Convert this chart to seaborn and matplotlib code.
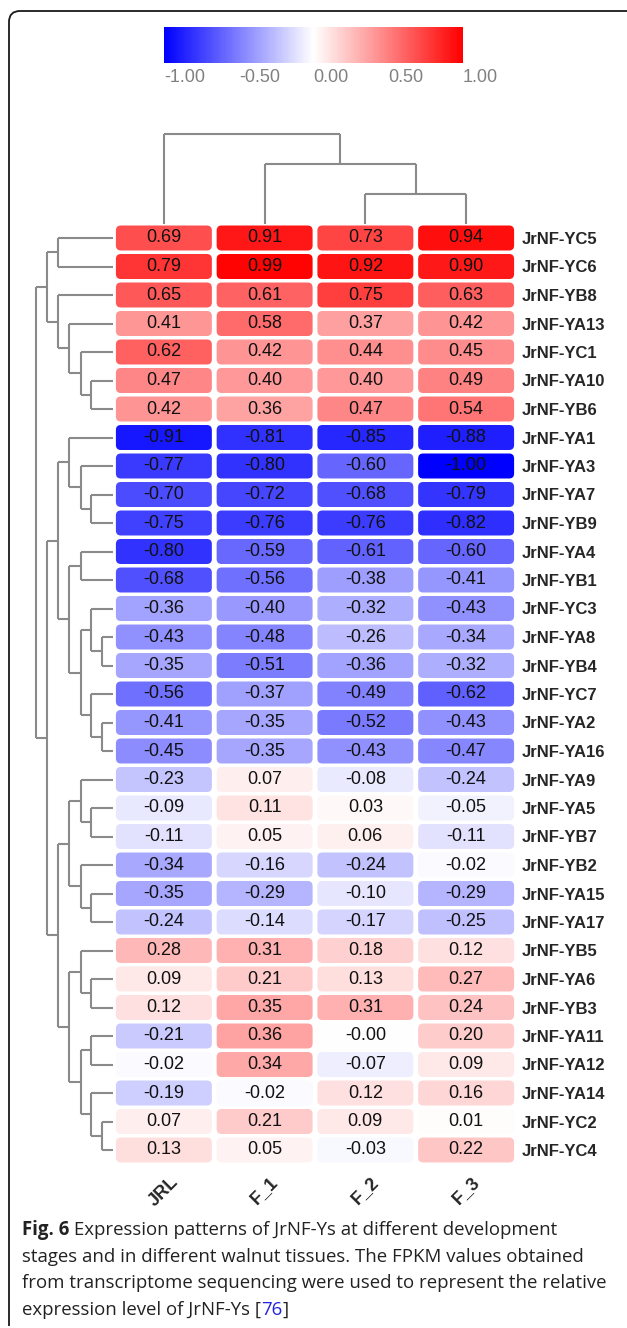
import numpy as np
import pandas as pd
import matplotlib
matplotlib.use("Agg")
import matplotlib.pyplot as plt
import seaborn as sns
from matplotlib.colors import LinearSegmentedColormap
from matplotlib.patches import FancyBboxPatch, PathPatch
from matplotlib.path import Path
from matplotlib.transforms import IdentityTransform

# ---------------- data ----------------
genes = ["JrNF-YC5", "JrNF-YC6", "JrNF-YB8", "JrNF-YA13", "JrNF-YC1", "JrNF-YA10",
         "JrNF-YB6", "JrNF-YA1", "JrNF-YA3", "JrNF-YA7", "JrNF-YB9", "JrNF-YA4",
         "JrNF-YB1", "JrNF-YC3", "JrNF-YA8", "JrNF-YB4", "JrNF-YC7", "JrNF-YA2",
         "JrNF-YA16", "JrNF-YA9", "JrNF-YA5", "JrNF-YB7", "JrNF-YB2", "JrNF-YA15",
         "JrNF-YA17", "JrNF-YB5", "JrNF-YA6", "JrNF-YB3", "JrNF-YA11", "JrNF-YA12",
         "JrNF-YA14", "JrNF-YC2", "JrNF-YC4"]
samples = ["JRL", "F_1", "F_2", "F_3"]

jrl = [0.69, 0.79, 0.65, 0.41, 0.62, 0.47, 0.42, -0.91, -0.77, -0.70, -0.75, -0.80,
       -0.68, -0.36, -0.43, -0.35, -0.56, -0.41, -0.45, -0.23, -0.09, -0.11, -0.34,
       -0.35, -0.24, 0.28, 0.09, 0.12, -0.21, -0.02, -0.19, 0.07, 0.13]
f_1 = [0.91, 0.99, 0.61, 0.58, 0.42, 0.40, 0.36, -0.81, -0.80, -0.72, -0.76, -0.59,
       -0.56, -0.40, -0.48, -0.51, -0.37, -0.35, -0.35, 0.07, 0.11, 0.05, -0.16,
       -0.29, -0.14, 0.31, 0.21, 0.35, 0.36, 0.34, -0.02, 0.21, 0.05]
f_2 = [0.73, 0.92, 0.75, 0.37, 0.44, 0.40, 0.47, -0.85, -0.60, -0.68, -0.76, -0.61,
       -0.38, -0.32, -0.26, -0.36, -0.49, -0.52, -0.43, -0.08, 0.03, 0.06, -0.24,
       -0.10, -0.17, 0.18, 0.13, 0.31, -0.001, -0.07, 0.12, 0.09, -0.03]
f_3 = [0.94, 0.90, 0.63, 0.42, 0.45, 0.49, 0.54, -0.88, -1.00, -0.79, -0.82, -0.60,
       -0.41, -0.43, -0.34, -0.32, -0.62, -0.43, -0.47, -0.24, -0.05, -0.11, -0.02,
       -0.29, -0.25, 0.12, 0.27, 0.24, 0.20, 0.09, 0.16, 0.01, 0.22]

# dendrogram topologies: (merge height, left, right); leaves are row / column indices
L1, L2, L3, L4, L5, L6, L7 = 11.3, 22.3, 33.0, 44.7, 55.7, 67.0, 78.0
row_tree = (L7,
            (L6, (L5, 0, 1), (L5, 2, (L4, 3, (L3, 4, (L2, 5, 6))))),
            (L6,
             (L5,
              (L4, 7, (L3, 8, (L2, 9, 10))),
              (L4, (L3, 11, 12),
                   (L3, (L2, 13, (L1, 14, 15)), (L2, 16, (L1, 17, 18))))),
             (L5,
              (L4, (L3, 19, (L2, 20, 21)), (L3, 22, (L2, 23, 24))),
              (L4, (L3, 25, (L2, 26, 27)),
                   (L3, (L2, 28, 29), (L2, 30, (L1, 31, 32)))))))
col_tree = (89.3, 0, (60.0, 1, (30.0, 2, 3)))

caption_bold = "Fig. 6"
caption_lines = [" Expression patterns of JrNF-Ys at different development",
                 "stages and in different walnut tissues. The FPKM values obtained",
                 "from transcriptome sequencing were used to represent the relative",
                 "expression level of JrNF-Ys ["]
caption_ref = "76"

# ---------------- figure ----------------
W, H = 627, 1328
fig = plt.figure(figsize=(W / 100, H / 100), dpi=100)
sns.set_style("white")
plt.rcParams["font.family"] = ["Liberation Sans", "DejaVu Sans"]

def fx(px):
    return px / W

def fy(py):
    return 1 - py / H

df = pd.DataFrame({"JRL": jrl, "F_1": f_1, "F_2": f_2, "F_3": f_3}, index=genes)[samples]
cmap = LinearSegmentedColormap.from_list("bwr_pure", ["#0000FF", "#FFFFFF", "#FF0000"])

heat_left, heat_right = 113.5, 516.5
heat_top, row_h = 223.75, 28.5
n_rows, n_cols = len(genes), len(samples)
heat_bottom = heat_top + n_rows * row_h

ax = fig.add_axes([fx(heat_left), fy(heat_bottom), fx(heat_right - heat_left),
                   (heat_bottom - heat_top) / H])
cax = fig.add_axes([fx(164), fy(63), fx(463 - 164), 36 / H])

sns.heatmap(df, ax=ax, cmap=cmap, vmin=-1, vmax=1, annot=True, fmt=".2f",
            annot_kws={"color": "#111111", "fontsize": 13, "family": "Liberation Sans"},
            cbar=True, cbar_ax=cax, cbar_kws={"orientation": "horizontal"},
            xticklabels=True, yticklabels=True)

mesh = ax.collections[0]
mesh.set_visible(False)

# rounded cells
ux = (heat_right - heat_left) / n_cols
uy = row_h
gx, gy, r_px = 2.4, 1.75, 5.0
for i in range(n_rows):
    for j in range(n_cols):
        v = df.iat[i, j]
        p = FancyBboxPatch((j + gx / ux, i + gy / uy), 1 - 2 * gx / ux, 1 - 2 * gy / uy,
                           boxstyle=f"round,pad=0,rounding_size={r_px / ux}",
                           mutation_aspect=ux / uy,
                           fc=mesh.cmap(mesh.norm(v)), ec="none", zorder=1)
        ax.add_patch(p)

ax.set_xlabel("")
ax.set_ylabel("")
ax.yaxis.tick_right()
ax.tick_params(axis="y", length=0, pad=4, labelsize=12, rotation=0)
for t in ax.get_yticklabels():
    t.set_fontweight("bold")
    t.set_ha("left")
ax.tick_params(axis="x", length=0, pad=7)
ax.set_xticklabels(samples, rotation=45, ha="center", va="top",
                   fontweight="bold", fontsize=13)
for s in ax.spines.values():
    s.set_visible(False)

# colorbar styling
cbar = mesh.colorbar
cbar.outline.set_visible(False)
cbar.set_ticks([-1.0, -0.5, 0.0, 0.5, 1.0])
cbar.set_ticklabels(["-1.00", "-0.50", "0.00", "0.50", "1.00"])
cax.tick_params(length=0, labelsize=13, labelcolor="#808080", pad=4)
for t in cax.get_xticklabels():
    t.set_ha("left")

# ---------------- dendrograms ----------------
line_kw = dict(color="#8a8a8a", lw=1.5, solid_capstyle="butt")

def draw_tree(node, axd, orient):
    if isinstance(node, int):
        return node + 0.5, 0.0
    h, a, b = node
    pa, ha = draw_tree(a, axd, orient)
    pb, hb = draw_tree(b, axd, orient)
    if orient == "row":
        axd.plot([ha, h], [pa, pa], **line_kw)
        axd.plot([hb, h], [pb, pb], **line_kw)
        axd.plot([h, h], [pa, pb], **line_kw)
    else:
        axd.plot([pa, pa], [ha, h], **line_kw)
        axd.plot([pb, pb], [hb, h], **line_kw)
        axd.plot([pa, pb], [h, h], **line_kw)
    return (pa + pb) / 2, h

rd_w = 85
axr = fig.add_axes([fx(heat_left - rd_w), fy(heat_bottom), fx(rd_w),
                    (heat_bottom - heat_top) / H])
axr.set_xlim(rd_w, 0)
axr.set_ylim(n_rows, 0)
draw_tree(row_tree, axr, "row")
axr.axis("off")

cd_h = 95
axc = fig.add_axes([fx(heat_left), fy(heat_top), fx(heat_right - heat_left), cd_h / H])
axc.set_xlim(0, n_cols)
axc.set_ylim(0, cd_h)
draw_tree(col_tree, axc, "col")
axc.axis("off")

# ---------------- border (left + top, rounded corner) ----------------
bx, by_top, by_bot, rr = 9, 11, 1326, 11
verts = [(bx, H - by_bot), (bx, H - (by_top + rr)), (bx, H - by_top),
         (bx + rr, H - by_top), (W + 20, H - by_top)]
codes = [Path.MOVETO, Path.LINETO, Path.CURVE3, Path.CURVE3, Path.LINETO]
fig.add_artist(PathPatch(Path(verts, codes), fc="none", ec="#1a1a1a", lw=1.3,
                         transform=IdentityTransform()))

# ---------------- caption ----------------
cap_font = "Open Sans"
fig.canvas.draw()
rend = fig.canvas.get_renderer()
probe = fig.text(0, 0, caption_lines[2], fontsize=12, family=cap_font)
w_probe = probe.get_window_extent(rend).width
probe.remove()
cap_fs = 12 * (603 - 22) / w_probe

ys = [1230, 1257, 1283, 1310]
x0 = 22
cap_col = "#222222"
tb = fig.text(fx(x0), fy(ys[0]), caption_bold, fontsize=cap_fs, family=cap_font,
              fontweight="bold", va="center", color=cap_col)
wb = tb.get_window_extent(rend).width
fig.text(fx(x0 + wb), fy(ys[0]), caption_lines[0], fontsize=cap_fs, family=cap_font,
         va="center", color=cap_col)
fig.text(fx(x0), fy(ys[1]), caption_lines[1], fontsize=cap_fs, family=cap_font,
         va="center", color=cap_col)
fig.text(fx(x0), fy(ys[2]), caption_lines[2], fontsize=cap_fs, family=cap_font,
         va="center", color=cap_col)
t4 = fig.text(fx(x0), fy(ys[3]), caption_lines[3], fontsize=cap_fs, family=cap_font,
              va="center", color=cap_col)
w4 = t4.get_window_extent(rend).width
t5 = fig.text(fx(x0 + w4), fy(ys[3]), caption_ref, fontsize=cap_fs, family=cap_font,
              va="center", color="#2222dd")
w5 = t5.get_window_extent(rend).width
fig.text(fx(x0 + w4 + w5), fy(ys[3]), "]", fontsize=cap_fs, family=cap_font,
         va="center", color=cap_col)

fig.savefig("out.png", dpi=100, facecolor="white")
